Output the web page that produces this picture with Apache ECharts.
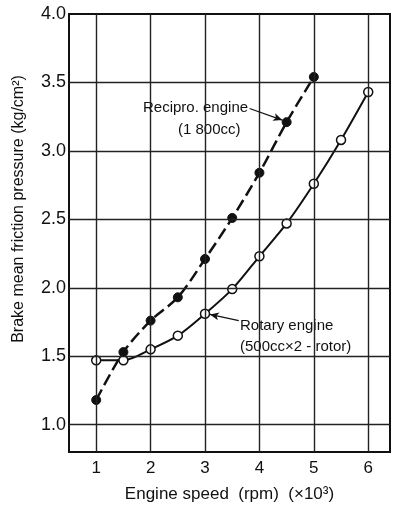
<!DOCTYPE html>
<html>
<head>
<meta charset="utf-8">
<script src="https://cdn.jsdelivr.net/npm/echarts@6/dist/echarts.min.js"></script>
<style>
html, body { margin: 0; padding: 0; background: #fff; }
#main { width: 396px; height: 509px; }
</style>
</head>
<body>
<div id="main"></div>
<script>
// engine speed (x1000 rpm)
var reciproSpeed = [1, 1.5, 2, 2.5, 3, 3.5, 4, 4.5, 5];
var reciproBmep  = [1.18, 1.53, 1.76, 1.93, 2.21, 2.51, 2.84, 3.21, 3.54];
var rotarySpeed  = [1, 1.5, 2, 2.5, 3, 3.5, 4, 4.5, 5, 5.5, 6];
var rotaryBmep   = [1.47, 1.47, 1.55, 1.65, 1.81, 1.99, 2.23, 2.47, 2.76, 3.08, 3.43];
var gridX = [1, 2, 3, 4, 5, 6];
var gridY = [1.0, 1.5, 2.0, 2.5, 3.0, 3.5];

var FONT = '"Liberation Sans", Arial, sans-serif';

var pairs = function (xs, ys) {
    var res = [];
    for (var i = 0; i < xs.length; i++) {
        res.push([xs[i], ys[i]]);
    }
    return res;
};

var chart = echarts.init(document.getElementById('main'), null, { renderer: 'canvas' });

chart.setOption({
    animation: false,
    grid: {
        left: 69, right: 6, top: 14, bottom: 57,
        show: true, borderColor: '#111', borderWidth: 2
    },
    xAxis: {
        type: 'value', min: 0.5, max: 6.4, interval: 0.5,
        name: 'Engine speed  (rpm)  (×10³)',
        nameLocation: 'middle', nameGap: 34,
        nameTextStyle: { color: '#111', fontSize: 17, fontFamily: FONT },
        axisLine: { show: true, lineStyle: { color: '#111', width: 2 } },
        axisTick: { show: false },
        splitLine: { show: false },
        axisLabel: {
            color: '#111', fontSize: 17, fontFamily: FONT, margin: 8,
            formatter: function (v) {
                return Math.abs(v - Math.round(v)) < 1e-6 ? String(Math.round(v)) : '';
            }
        }
    },
    yAxis: {
        type: 'value', min: 0.8, max: 4.0, interval: 0.1,
        name: 'Brake mean friction pressure (kg/cm²)',
        nameLocation: 'middle', nameGap: 42, nameRotate: 90,
        nameTextStyle: { color: '#111', fontSize: 16, fontFamily: FONT, padding: [0, 0, 0, 48] },
        axisLine: { show: true, lineStyle: { color: '#111', width: 2 } },
        axisTick: { show: false },
        splitLine: { show: false },
        axisLabel: {
            color: '#111', fontSize: 18, fontFamily: FONT, margin: 3,
            formatter: function (v) {
                return Math.abs(v * 2 - Math.round(v * 2)) < 1e-6 ? v.toFixed(1) : '';
            }
        }
    },
    series: [{
        name: 'Rotary engine',
        type: 'line',
        data: pairs(rotarySpeed, rotaryBmep),
        smooth: 0.3,
        symbol: 'circle', symbolSize: 9,
        itemStyle: { color: '#fff', borderColor: '#111', borderWidth: 1.5 },
        lineStyle: { color: '#111', width: 2 },
        z: 3,
        markLine: {
            silent: true, symbol: 'none', animation: false,
            label: { show: false },
            lineStyle: { color: '#222', width: 1.4, type: 'solid' },
            data: gridX.map(function (v) { return { xAxis: v }; })
                .concat(gridY.map(function (v) { return { yAxis: v }; }))
        }
    }, {
        name: 'Recipro. engine',
        type: 'line',
        data: pairs(reciproSpeed, reciproBmep),
        smooth: 0.3,
        symbol: 'circle', symbolSize: 9,
        itemStyle: { color: '#111', borderColor: '#111', borderWidth: 1 },
        lineStyle: { color: '#111', width: 2.5, type: [12, 5] },
        z: 4,
        markLine: {
            silent: true, symbol: ['none', 'arrow'], symbolSize: [6, 9], animation: false,
            label: { show: false },
            lineStyle: { color: '#111', width: 1.2, type: 'solid' },
            data: [
                [{ coord: [3.82, 3.31] }, { coord: [4.42, 3.225] }],
                [{ coord: [3.62, 1.76] }, { coord: [3.09, 1.805] }]
            ]
        }
    }],
    graphic: [
        { type: 'text', left: 143, top: 100, style: { text: 'Recipro. engine', font: '15px ' + FONT, fill: '#111' } },
        { type: 'text', left: 178, top: 122, style: { text: '(1 800cc)', font: '15px ' + FONT, fill: '#111' } },
        { type: 'text', left: 240, top: 318, style: { text: 'Rotary engine', font: '15px ' + FONT, fill: '#111' } },
        { type: 'text', left: 240, top: 339, style: { text: '(500cc×2 - rotor)', font: '15px ' + FONT, fill: '#111' } }
    ]
});
</script>
</body>
</html>
